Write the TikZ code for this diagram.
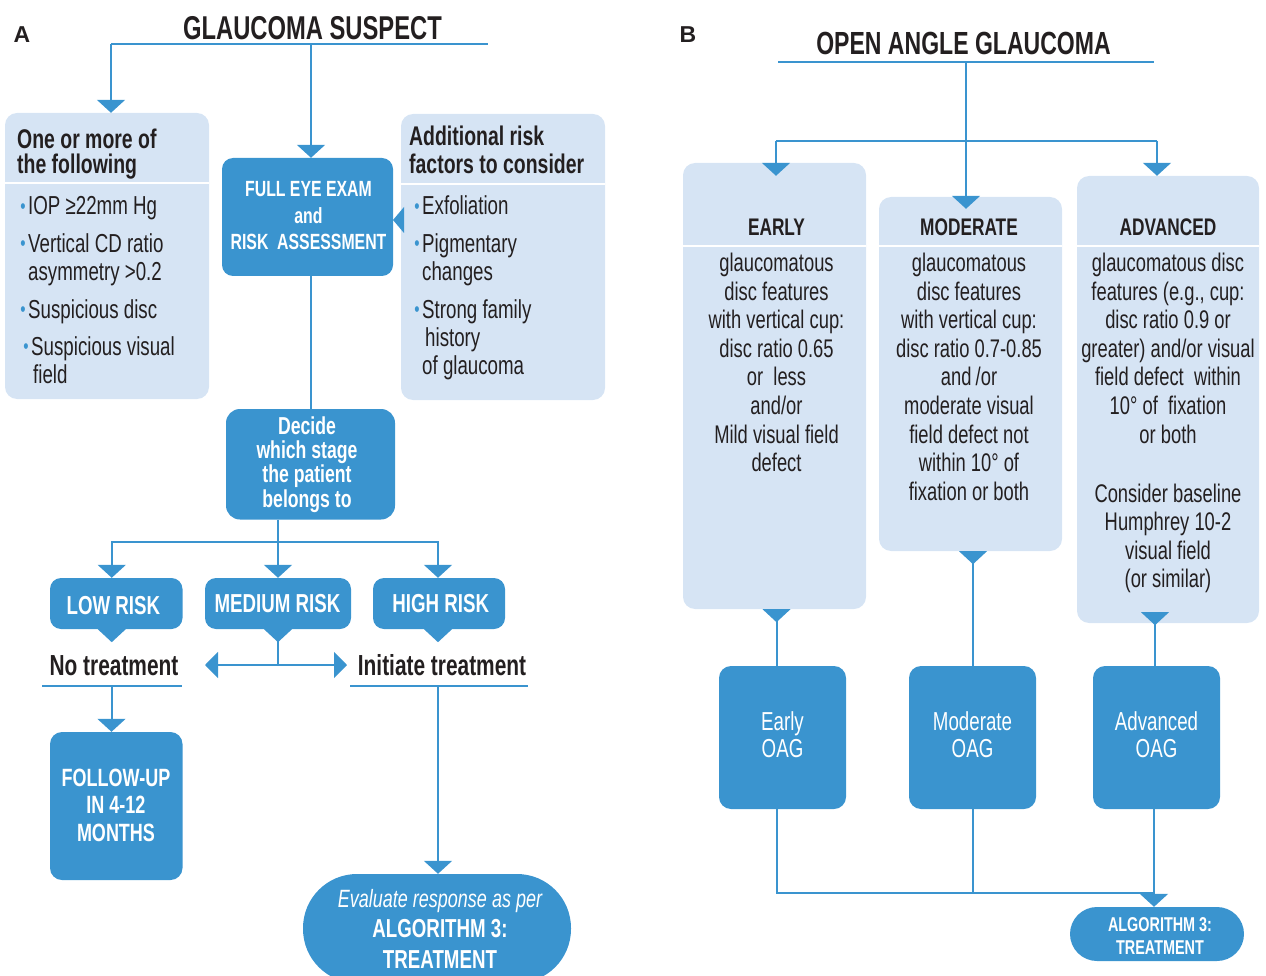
\documentclass[tikz,border=0pt]{standalone}
\usepackage{fontspec}
\setmainfont{Liberation Sans}[FakeStretch=0.72]
\newfontfamily\labfont{Liberation Sans}
\usetikzlibrary{arrows.meta}
\definecolor{mblue}{HTML}{3A94CF}
\definecolor{lblue}{HTML}{D6E4F4}
\definecolor{ink}{HTML}{231F20}
\newcommand\fs[2]{\fontsize{#1}{#2}\selectfont}
\newcommand\dtri[1]{\fill[mblue] (#1) ++(-14,0) -- ++(28,0) -- ++(-14,13) -- cycle;}
\newcommand\bul{\llap{\raisebox{1.5pt}{\textcolor{mblue}{\fs{21}{21}•}}\hspace{2.5pt}}}
\begin{document}
\begin{tikzpicture}[x=1pt,y=-1pt,
  lbox/.style={fill=lblue, rounded corners=12pt, inner sep=0pt},
  dbox/.style={fill=mblue, rounded corners=11pt, inner sep=0pt},
  conn/.style={draw=mblue, line width=2pt},
  arr/.style={conn, -{Triangle[width=28pt,length=13pt]}},
  dbl/.style={conn, {Triangle[width=26pt,length=13pt]}-{Triangle[width=26pt,length=13pt]}},
  sep/.style={draw=white, line width=2.5pt},
  uline/.style={draw=mblue, line width=2pt},
  tx/.style={inner sep=0pt, anchor=base, text=ink, align=center},
  wt/.style={inner sep=0pt, anchor=base, text=white, align=center},
  item/.style={inner sep=0pt, text=ink, align=left, anchor=base west, font=\fs{26}{28}},
  bbody/.style={tx, font=\fs{25.5}{28.6}}]
\useasboundingbox (0,0) rectangle (1266,976);
\clip (0,0) rectangle (1266,976);

% ---------------- Panel A ----------------
\node[tx, font=\labfont\bfseries\fs{23}{23}] (labA) at (22,43) {A};
\node[tx, font=\bfseries\fs{33}{33}] (titA) at (312.5,39.5) {GLAUCOMA SUSPECT};
\coordinate (uA1) at (111,44); \coordinate (uAm) at (311,44); \coordinate (uA2) at (488,44);
\draw[uline] (uA1) -- (uA2);

\node[lbox, minimum width=204pt, minimum height=286pt] (one) at (107,256) {};
\node[lbox, minimum width=204pt, minimum height=286pt] (add) at (503,257) {};
\node[dbox, minimum width=171pt, minimum height=118pt] (exam) at (307.5,217) {};
\node[dbox, minimum width=169pt, minimum height=110.5pt, rounded corners=14pt] (decide) at (310.5,464.25) {};
\draw[sep] (5,183) -- (209,183);
\draw[sep] (401,184) -- (605,184);

% multi-line nodes: base anchor = baseline of last line
\node[tx, font=\bfseries\fs{27}{25}, align=left, anchor=base west] (oneH) at (17,174) {One or more of\\the following};
\node[tx, font=\bfseries\fs{27}{28}, align=left, anchor=base west] (addH) at (409,174) {Additional risk\\factors to consider};

\node[item] (i1) at (28,215) {\bul IOP ≥22mm Hg};
\node[item] (i2) at (28,280) {\bul Vertical CD ratio\\asymmetry >0.2};
\node[item] (i3) at (28,318) {\bul Suspicious disc};
\node[item] (i4) at (31,383) {\bul Suspicious visual\\\hspace*{2pt}field};
\node[item] (r1) at (422,215) {\bul Exfoliation};
\node[item] (r2) at (422,280) {\bul Pigmentary\\changes};
\node[item] (r3) at (422,374) {\bul Strong family\\\hspace*{3pt}history\\of glaucoma};

\node[wt, font=\bfseries\fs{22}{26.5}] (examT) at (308.5,250) {FULL EYE EXAM\\and\\RISK~ ASSESSMENT};
\node[wt, font=\bfseries\fs{24.5}{24.3}] (decT) at (307,507) {Decide\\which stage\\the patient\\belongs to};

\draw[arr] (uA1) -- (uA1 |- one.north);
\draw[arr] (uAm) -- (uAm |- exam.north);
\fill[mblue] (404,207) -- (404,233) -- (393,220) -- cycle;
\draw[conn] (uAm |- exam.south) -- (uAm |- decide.north);

\node[dbox, minimum width=132.5pt, minimum height=51pt] (low) at (116.25,603.5) {};
\node[dbox, minimum width=146pt, minimum height=51pt] (med) at (278,603.5) {};
\node[dbox, minimum width=132pt, minimum height=51pt] (high) at (439,603.5) {};
\node[wt, font=\bfseries\fs{26}{26}] (lowT) at (113.4,614) {LOW RISK};
\node[wt, font=\bfseries\fs{26}{26}] (medT) at (277.5,612.5) {MEDIUM RISK};
\node[wt, font=\bfseries\fs{26}{26}] (highT) at (440.8,612.5) {HIGH RISK};

\coordinate (br) at (278,541.5);
\draw[conn] (br |- decide.south) -- (br);
\draw[arr] (br) -- (br |- med.north);
\draw[arr] (br) -| ([xshift=-4.5pt]low.north);
\draw[arr] (br) -| ([xshift=-1pt]high.north);
\dtri{[xshift=-4.5pt]low.south}
\dtri{med.south}
\dtri{[xshift=-1pt]high.south}

\coordinate (mL) at (205,665); \coordinate (mR) at (347,665);
\draw[conn] (med.south) -- (med.south |- mL);
\draw[dbl] (mL) -- (mR);

\node[tx, font=\bfseries\fs{29}{29}] (noT) at (114,675) {No treatment};
\node[tx, font=\bfseries\fs{29}{29}] (iniT) at (442,675) {Initiate treatment};
\coordinate (nU1) at (42,686); \coordinate (nU2) at (182,686);
\coordinate (iU1) at (350,686); \coordinate (iU2) at (528,686);
\draw[uline] (nU1) -- (nU2);
\draw[uline] (iU1) -- (iU2);

\node[dbox, minimum width=132.5pt, minimum height=148pt, rounded corners=12pt] (follow) at (116.25,806) {};
\coordinate (nS) at (111.5,686);
\draw[arr] (nS) -- (nS |- follow.north);
\node[wt, font=\bfseries\fs{25}{27.5}] (folT) at (116,841) {FOLLOW-UP\\IN 4-12\\MONTHS};

\node[dbox, minimum width=268pt, minimum height=109pt, rounded corners=54pt] (eval) at (437,928.5) {};
\coordinate (iS) at (438,686);
\draw[arr] (iS) -- (iS |- eval.north);
\node[wt, font=\fs{25}{30.5}] (evT) at (440,968) {{\itshape Evaluate response as per}\\\bfseries\fs{26}{30.5}ALGORITHM 3:\\\bfseries\fs{26}{30.5}TREATMENT};

% ---------------- Panel B ----------------
\node[tx, font=\labfont\bfseries\fs{23}{23}] (labB) at (688,43) {B};
\node[tx, font=\bfseries\fs{32}{32}] (titB) at (963.5,55) {OPEN ANGLE GLAUCOMA};
\coordinate (uB1) at (778,62); \coordinate (uBm) at (966,62); \coordinate (uB2) at (1154,62);
\draw[uline] (uB1) -- (uB2);

\node[lbox, minimum width=183pt, minimum height=446pt] (early) at (774.5,386) {};
\node[lbox, minimum width=183pt, minimum height=354pt] (mod) at (970.5,374) {};
\node[lbox, minimum width=182pt, minimum height=447pt] (adv) at (1168,399.5) {};
\draw[sep] (683,246) -- (866,246);
\draw[sep] (879,246) -- (1062,246);
\draw[sep] (1077,246) -- (1259,246);

\coordinate (modTip) at ([yshift=-12pt]mod.north);
\coordinate (earlyTip) at ([yshift=-13pt]early.north);
\coordinate (jL) at (776,141); \coordinate (jR) at (1157,141);
\draw[arr] (uBm) -- (modTip -| uBm);
\draw[conn] (jL) -- (jR);
\draw[arr] (jL) -- (jL |- earlyTip);
\draw[arr] (jR) -- (jR |- adv.north);

\node[tx, font=\bfseries\fs{24}{24}] (eH) at (776.5,236) {EARLY};
\node[tx, font=\bfseries\fs{24}{24}] (mH) at (969,236) {MODERATE};
\node[tx, font=\bfseries\fs{24}{24}] (aH) at (1168,236) {ADVANCED};
\node[bbody] (eB) at (776.5,471.7) {glaucomatous\\disc features\\with vertical cup:\\disc ratio 0.65\\or~ less\\and/or\\Mild visual field\\defect};
\node[bbody] (mB) at (969,500.3) {glaucomatous\\disc features\\with vertical cup:\\disc ratio 0.7-0.85\\and\,/or\\moderate visual\\field defect not\\within 10° of\\fixation or both};
\node[bbody] (aB) at (1168,443.1) {glaucomatous disc\\features (e.g., cup:\\disc ratio 0.9 or\\greater) and/or visual\\field defect~ within\\10° of~ fixation\\or both};
\node[bbody] (aB2) at (1168,587.8) {Consider baseline\\Humphrey 10-2\\visual field\\(or similar)};

\node[dbox, minimum width=127pt, minimum height=143pt, rounded corners=12pt] (eOAG) at (782.5,737.5) {};
\node[dbox, minimum width=127pt, minimum height=143pt, rounded corners=12pt] (mOAG) at (972.5,737.5) {};
\node[dbox, minimum width=127pt, minimum height=143pt, rounded corners=12pt] (aOAG) at (1156.5,737.5) {};
\node[wt, font=\fs{26}{27}] (eOT) at (782.5,757) {Early\\OAG};
\node[wt, font=\fs{26}{27}] (mOT) at (972.5,757) {Moderate\\OAG};
\node[wt, font=\fs{26}{27}] (aOT) at (1156.5,757) {Advanced\\OAG};

\coordinate (eL) at (776.5,622); \coordinate (mLn) at (973,564); \coordinate (aL) at (1155,625);
\draw[conn] (eL |- early.south) -- (eL |- eOAG.north);
\draw[conn] (mLn |- mod.south) -- (mLn |- mOAG.north);
\draw[conn] (aL |- adv.south) -- (aL |- aOAG.north);
\dtri{[xshift=2pt]early.south}
\dtri{[xshift=2.5pt]mod.south}
\coordinate (advTri) at ([xshift=-13pt,yshift=11pt]adv.south);
\dtri{advTri}

\node[dbox, minimum width=174pt, minimum height=54pt, rounded corners=27pt] (alg) at (1157,934) {};
\node[wt, font=\bfseries\fs{20}{23.3}] (algT) at (1160,954.3) {ALGORITHM 3:\\TREATMENT};
\coordinate (jb) at (1154,893);
\draw[conn] (eOAG.south -| eL) |- (jb);
\draw[conn] (mOAG.south -| mLn) -- (mLn |- jb);
\draw[arr] (aOAG.south -| jb) -- (jb |- alg.north);
\end{tikzpicture}
\end{document}
